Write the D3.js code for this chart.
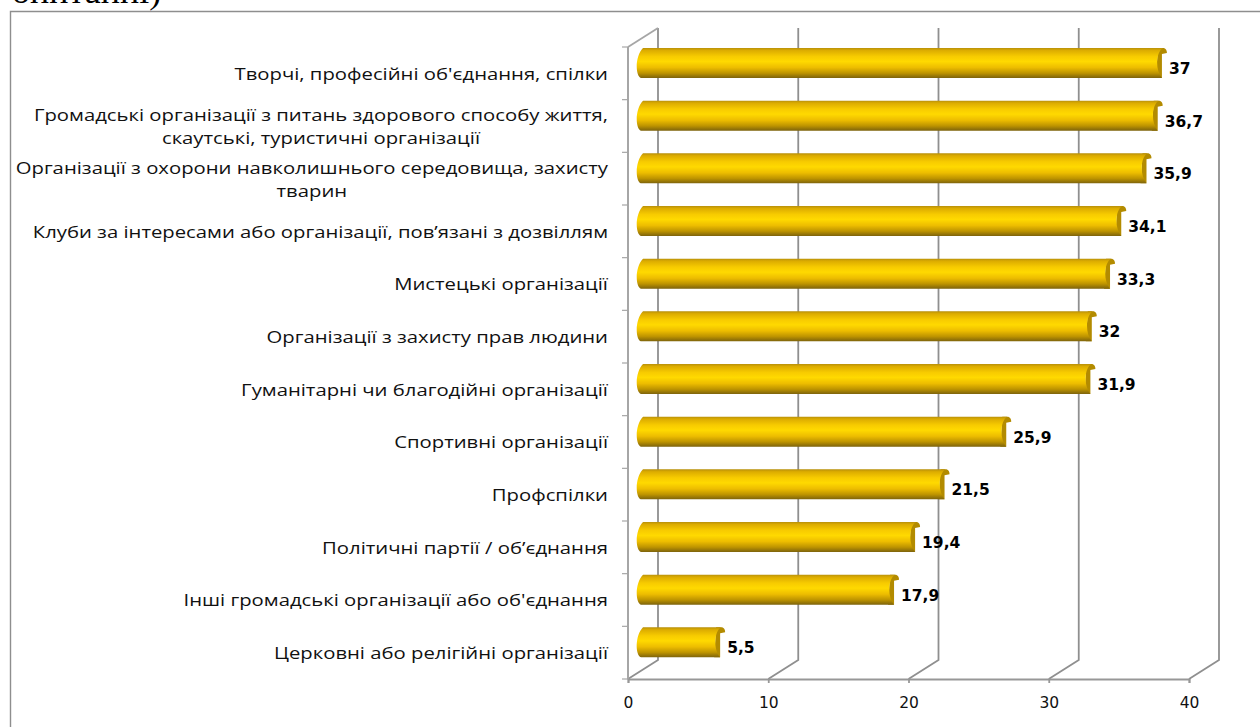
<!DOCTYPE html>
<html><head><meta charset="utf-8">
<script src="https://cdn.jsdelivr.net/npm/d3@7"></script>
<style>
html,body{margin:0;padding:0;background:#fff;overflow:hidden}
svg{display:block}
.cat{font-family:"Open Sans",sans-serif;font-size:17px;fill:#111}
.val{font-family:"DejaVu Sans",sans-serif;font-weight:bold;font-size:15.5px;fill:#000}
.tick text{font-family:"DejaVu Sans",sans-serif;font-size:15.5px;fill:#111}
</style></head><body>
<svg id="c" width="1260" height="727"></svg>
<script>
const categories = [
 "Творчі, професійні об'єднання, спілки",
 "Громадські організації з питань здорового способу життя,\nскаутські, туристичні організації",
 "Організації з охорони навколишнього середовища, захисту\nтварин",
 "Клуби за інтересами або організації, пов’язані з дозвіллям",
 "Мистецькі організації",
 "Організації з захисту прав людини",
 "Гуманітарні чи благодійні організації",
 "Спортивні організації",
 "Профспілки",
 "Політичні партії / об’єднання",
 "Інші громадські організації або об'єднання",
 "Церковні або релігійні організації"];
const values = [37,36.7,35.9,34.1,33.3,32,31.9,25.9,21.5,19.4,17.9,5.5];
const xTicks = [0,10,20,30,40];

const svg = d3.select("#c");
const plot = {left:628,right:1189,top:47,bottom:679,dx:30,dy:-19};
const barH = 30, barOff = 15;
const x = d3.scaleLinear().domain([0,40]).range([plot.left,plot.right]);
const y = d3.scaleBand().domain(categories).range([plot.top,plot.bottom]).padding(0);
const fmt = v => String(v).replace(".",",");

const defs = svg.append("defs");
const g = defs.append("linearGradient").attr("id","gold").attr("x1",0).attr("x2",0).attr("y1",0).attr("y2",1);
[[0,"#b8900a"],[0.08,"#dcac00"],[0.28,"#f7cb00"],[0.45,"#ffd900"],[0.65,"#edbd00"],[0.84,"#bd9300"],[1,"#7d630c"]]
 .forEach(s=>g.append("stop").attr("offset",s[0]).attr("stop-color",s[1]));

// outer frame and clipped caption
svg.append("text").attr("x",12).attr("y",3).attr("font-family","Liberation Serif").attr("font-size",36).attr("fill","#000").text("опитанні)");
svg.append("path").attr("d","M1260,11.5H10.5V727").attr("fill","none").attr("stroke","#8e8e8e").attr("stroke-width",1.4);

// back wall gridlines and floor diagonals
const wall = svg.append("g").attr("fill","none").attr("stroke","#8f8f8f").attr("stroke-width",1.8);
xTicks.forEach(t=>{
  wall.append("path").attr("d",`M${x(t)},${plot.bottom}l${plot.dx},${plot.dy}V${plot.top+plot.dy}`);
});
wall.append("path").attr("d",`M${plot.left},${plot.top}l${plot.dx},${plot.dy}`).attr("stroke","#a6a6a6");

// left axis with ticks on the band edges
const edges = categories.map(c=>y(c)).concat([plot.bottom]);
const left = svg.append("g").attr("stroke","#a6a6a6").attr("fill","none");
left.append("path").attr("d",`M${plot.left},${plot.top}V${plot.bottom}`).attr("stroke-width",2);
left.selectAll("line").data(edges).join("line")
  .attr("x1",plot.left-6).attr("x2",plot.left).attr("y1",d=>d).attr("y2",d=>d).attr("stroke-width",1.2);

// bottom axis
const ax = svg.append("g").attr("transform",`translate(0,${plot.bottom})`)
  .call(d3.axisBottom(x).tickValues(xTicks).tickSize(4).tickPadding(14).tickFormat(d3.format("d")));
ax.selectAll("path,line").attr("stroke","#979797").attr("stroke-width",1.8);

// cylinders
const rows = categories.map((c,i)=>({c,v:values[i]}));
const bars = svg.append("g").selectAll("g").data(rows).join("g");
const y0 = d=>y(d.c)+1, y1 = d=>y0(d)+barH, xL = ()=>x(0)+barOff, xR = d=>x(d.v)+barOff;
bars.append("path").attr("fill","#b38b00").attr("d",d=>{
  const r=xR(d),a=y0(d),b=y1(d);
  return `M${r-4},${a}L${r+2},${a}Q${r+5},${a+1} ${r+5},${a+5}L${r},${a+6}V${b}H${r-6}Z`;
});
bars.append("path").attr("fill","url(#gold)").attr("d",d=>{
  const l=xL(),r=xR(d),a=y0(d),b=y1(d);
  return `M${l},${a}L${r+1},${a}C${r-6},${a+4} ${r-7},${b-8} ${r},${b}L${l-2},${b}C${l-8},${b-2} ${l-8},${a+8} ${l},${a}Z`;
});
bars.append("text").attr("class","val").attr("x",d=>xR(d)+7).attr("y",d=>y0(d)+26).text(d=>fmt(d.v));

// category labels: right-aligned block, wrapped lines centred within it
const labelScale = 1.193;
const labels = svg.append("g").attr("transform",`translate(608,0) scale(${labelScale},1)`)
  .selectAll("text").data(categories).join("text")
  .attr("class","cat").attr("text-anchor","middle");
labels.each(function(c){
  const lines=c.split("\n"), mid=y(c)+y.bandwidth()/2, lh=23;
  const ts=d3.select(this).selectAll("tspan").data(lines).join("tspan")
    .attr("y",(l,i)=>mid+6.5+(i-(lines.length-1)/2)*lh).text(l=>l);
  const w=d3.max(ts.nodes(),n=>n.getComputedTextLength());
  ts.attr("x",-w/2);
});
</script></body></html>
